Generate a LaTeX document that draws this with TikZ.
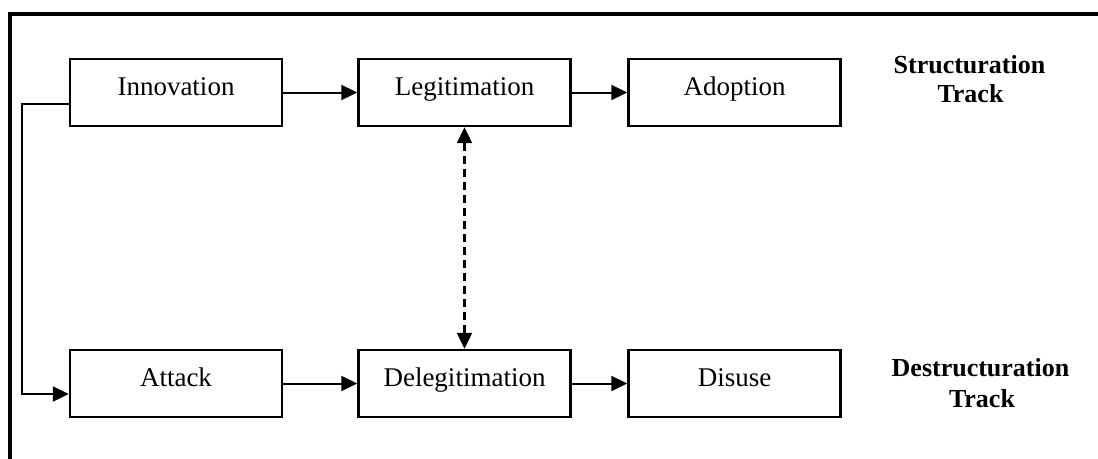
\documentclass[tikz,border=0pt]{standalone}
\usepackage{fontspec}
\setmainfont{Liberation Serif}
\usetikzlibrary{arrows.meta}
\begin{document}
\begin{tikzpicture}[x=1pt,y=-1pt,
  stagebox/.style={draw,line width=2.4pt,minimum width=212pt,minimum height=67pt,inner sep=0pt,
    font=\fontsize{27}{31}\selectfont,text height=14pt,text depth=8pt},
  arr/.style={line width=2pt,-{Triangle[length=16pt,width=15pt]}},
  dasharr/.style={line width=2.2pt,dash pattern=on 8pt off 5pt,{Triangle[length=16pt,width=15pt]}-{Triangle[length=16pt,width=15pt]}},
  tracklabel/.style={anchor=base,inner sep=0pt,font=\fontsize{26}{29}\selectfont\bfseries}]
\useasboundingbox (0,0) rectangle (1098,458);
% outer frame (only top and left sides visible)
\draw[line width=4pt] (10,470) -- (10,14) -- (1110,14);
% stages
\node[stagebox] (inno)  at (176,92.5)   {Innovation};
\node[stagebox] (legit) at (464.5,92.5) {Legitimation};
\node[stagebox] (adopt) at (734.5,92.5) {Adoption};
\node[stagebox] (att)   at (176,383.5)  {Attack};
\node[stagebox] (deleg) at (464.5,383.5){Delegitimation};
\node[stagebox] (dis)   at (734.5,383.5){Disuse};
% track labels
\node[tracklabel] (st1) at (969.5,73) {Structuration};
\node[tracklabel] (st2) at (970.5,102) {Track};
\node[tracklabel] (dt1) at (980.5,376) {Destructuration};
\node[tracklabel] (dt2) at (982,407) {Track};
% connectors
\draw[arr] (inno) -- (legit);
\draw[arr] (legit) -- (adopt);
\draw[arr] (att) -- (deleg);
\draw[arr] (deleg) -- (dis);
\draw[dasharr] (legit.south) -- (deleg.north);
\draw[arr] ([yshift=-11.5pt]inno.west) -- ++(-47,0) |- ([yshift=-10.5pt]att.west);
\end{tikzpicture}
\end{document}
